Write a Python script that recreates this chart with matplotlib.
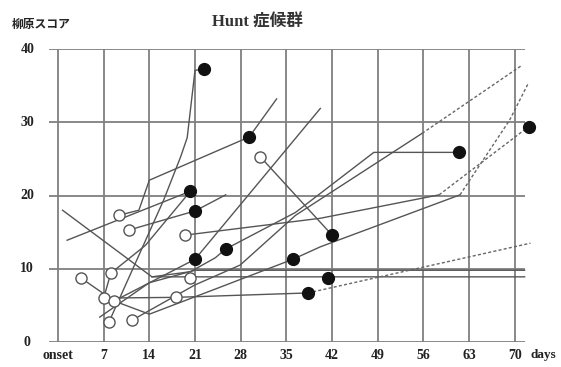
import matplotlib.pyplot as plt

# grid positions and tick labels
x_grid = [0, 7, 14, 21, 28, 35, 42, 49, 56, 63, 70]
x_labels = ['onset', '7', '14', '21', '28', '35', '42', '49', '56', '63', '70']
y_grid = [0, 10, 20, 30, 40]

# patient courses (day, score), solid part
p1_day = [0.7, 14.4, 71.5]
p1_score = [18.0, 8.9, 8.9]
p2_day = [6.4, 14.0, 21.0, 71.5]
p2_score = [3.4, 8.1, 9.8, 9.8]
p3_day = [7.8, 16.2, 18.8, 19.8, 21.0, 22.3]
p3_score = [2.7, 19.4, 25.3, 27.9, 37.1, 37.3]
p4_day = [7.0, 8.1, 13.4, 20.3]
p4_score = [6.0, 9.4, 13.2, 20.6]
p5_day = [1.4, 20.3]
p5_score = [13.9, 20.6]
p6_day = [10.9, 21.0, 25.7]
p6_score = [15.3, 17.9, 20.1]
p7_day = [9.3, 12.4, 14.0, 29.3, 33.5]
p7_score = [17.3, 18.0, 22.1, 28.0, 33.2]
p8_day = [8.6, 21.0, 40.2]
p8_score = [5.6, 11.3, 31.9]
p9_day = [3.6, 8.6, 14.0, 24.6, 36.0, 40.2, 61.6]
p9_score = [8.7, 5.6, 3.8, 7.4, 11.3, 13.0, 20.1]
p10_day = [31.0, 42.0]
p10_score = [25.3, 14.6]
p11_day = [14.4, 20.3, 24.1, 25.7, 36.4, 48.4, 61.4]
p11_score = [8.9, 9.6, 11.5, 12.7, 17.7, 25.9, 25.9]
p12_day = [11.4, 21.0, 27.9, 36.4, 55.8]
p12_score = [3.0, 7.8, 10.5, 17.3, 28.5]
p13_day = [19.5, 40.2, 58.4]
p13_score = [14.6, 16.9, 20.1]
p14_day = [7.0, 18.1, 38.3]
p14_score = [6.0, 6.1, 6.7]

# dashed continuations
d9_day = [61.6, 69.2, 72.1]
d9_score = [20.1, 30.3, 35.4]
d12_day = [55.8, 71.1]
d12_score = [28.5, 37.8]
d13_day = [58.4, 72.1]
d13_score = [20.1, 29.4]
d14_day = [38.3, 72.4]
d14_score = [6.7, 13.5]

# markers
open_day = [3.6, 7.0, 8.6, 8.1, 7.8, 11.4, 9.3, 10.9, 18.1, 20.3, 19.5, 31.0]
open_score = [8.7, 6.0, 5.6, 9.4, 2.7, 3.0, 17.3, 15.3, 6.1, 8.7, 14.6, 25.3]
filled_day = [22.3, 29.3, 20.3, 21.0, 21.0, 25.7, 42.0, 36.0, 41.4, 38.3, 61.4, 72.1]
filled_score = [37.3, 28.0, 20.6, 17.9, 11.3, 12.7, 14.6, 11.3, 8.7, 6.7, 25.9, 29.4]

solid = [(p1_day, p1_score), (p2_day, p2_score), (p3_day, p3_score),
         (p4_day, p4_score), (p5_day, p5_score), (p6_day, p6_score),
         (p7_day, p7_score), (p8_day, p8_score), (p9_day, p9_score),
         (p10_day, p10_score), (p11_day, p11_score), (p12_day, p12_score),
         (p13_day, p13_score), (p14_day, p14_score)]
dashed = [(d9_day, d9_score), (d12_day, d12_score),
          (d13_day, d13_score), (d14_day, d14_score)]

serif = ['Liberation Serif', 'DejaVu Serif']
cjk = ['Liberation Serif', 'Noto Sans CJK JP']

fig = plt.figure(figsize=(5.61, 3.67), dpi=100)
ax = fig.add_axes([0.0882, 0.0681, 0.876, 0.798])
ax.set_xlim(-1.3, 74)
ax.set_ylim(0, 40)
ax.axis('off')

grid_c = '#7f7f7f'
ax.hlines(y_grid, -1.3, 71.5, color=grid_c, lw=1.3, zorder=1)
ax.vlines(x_grid, 0, 40, color=grid_c, lw=1.3, zorder=1)

line_c = '#555555'
for d, s in solid:
    ax.plot(d, s, color=line_c, lw=1.0, zorder=2, clip_on=False)
for d, s in dashed:
    ax.plot(d, s, color='#666666', lw=1.0, ls=(0, (2.2, 1.6)), zorder=2, clip_on=False)

ax.plot(open_day, open_score, 'o', ms=8, mfc='white', mec='#555555', mew=1.0,
        ls='none', zorder=3, clip_on=False)
ax.plot(filled_day, filled_score, 'o', ms=8.5, mfc='#111111', mec='#111111',
        ls='none', zorder=4, clip_on=False)

# tick labels
for x, lab in zip(x_grid, x_labels):
    ax.text(x, -1.8, lab, ha='center', va='center', fontsize=10,
            fontweight='bold', family=serif, color='#222222')
ax.text(72.4, -1.8, 'days', ha='left', va='center', fontsize=9.5,
        fontweight='bold', family=serif, color='#222222')
for y in y_grid:
    ax.text(-4.7, y, str(y), ha='center', va='center', fontsize=10,
            fontweight='bold', family=serif, color='#222222')

fig.text(257 / 561, 1 - 23 / 367, 'Hunt 症候群', ha='center', va='center',
         fontsize=12, fontweight='bold', family=cjk, color='#333333')
fig.text(12 / 561, 1 - 24 / 367, '柳原スコア', ha='left', va='center',
         fontsize=8.5, fontweight='bold', family=['Noto Sans CJK JP'],
         color='#222222')

fig.savefig('out.png', dpi=100)
